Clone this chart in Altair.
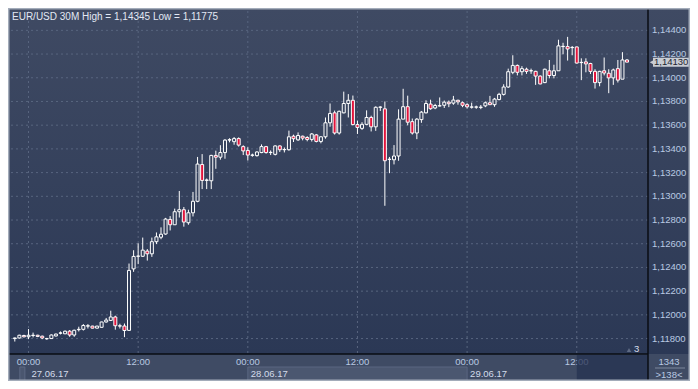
import altair as alt
import pandas as pd

# ---- candle data (EUR/USD, 30-minute bars; slot 0 = 27.06.17 00:00) ----
slots = list(range(-3, 132))
opens = [1.11800, 1.11805, 1.11826, 1.11815, 1.11826, 1.11828, 1.11820, 1.11798, 1.11800, 1.11822,
         1.11845, 1.11840, 1.11862, 1.11830, 1.11875, 1.11878, 1.11905, 1.11905, 1.11888, 1.11895,
         1.11940, 1.11953, 1.11982, 1.11905, 1.11906, 1.11869, 1.12388, 1.12494, 1.12494, 1.12538,
         1.12515, 1.12617, 1.12655, 1.12682, 1.12805, 1.12760, 1.12870, 1.12887, 1.12777, 1.12861,
         1.12958, 1.13268, 1.13134, 1.13131, 1.13345, 1.13330, 1.13369, 1.13474, 1.13461, 1.13487,
         1.13419, 1.13387, 1.13346, 1.13343, 1.13369, 1.13419, 1.13369, 1.13354, 1.13425, 1.13393,
         1.13393, 1.13507, 1.13476, 1.13507, 1.13496, 1.13480, 1.13518, 1.13463, 1.13502, 1.13620,
         1.13704, 1.13534, 1.13704, 1.13783, 1.13810, 1.13605, 1.13573, 1.13607, 1.13665, 1.13586,
         1.13751, 1.13738, 1.13311, 1.13308, 1.13340, 1.13651, 1.13756, 1.13630, 1.13534, 1.13647,
         1.13704, 1.13778, 1.13745, 1.13762, 1.13768, 1.13794, 1.13786, 1.13810, 1.13789, 1.13773,
         1.13752, 1.13752, 1.13750, 1.13763, 1.13789, 1.13773, 1.13816, 1.13860, 1.13922, 1.14046,
         1.14104, 1.14051, 1.14072, 1.14058, 1.14054, 1.14014, 1.13959, 1.14059, 1.14019, 1.14059,
         1.14263, 1.14263, 1.14254, 1.14260, 1.14128, 1.14134, 1.14120, 1.14054, 1.13959, 1.14059,
         1.14038, 1.13999, 1.14077, 1.13988, 1.14150]
highs = [1.11808, 1.11832, 1.11832, 1.11880, 1.11850, 1.11832, 1.11825, 1.11806, 1.11835, 1.11842,
         1.11860, 1.11868, 1.11872, 1.11875, 1.11900, 1.11922, 1.11922, 1.11908, 1.11908, 1.11942,
         1.11974, 1.12035, 1.11993, 1.11925, 1.11927, 1.12433, 1.12545, 1.12604, 1.12652, 1.12555,
         1.12652, 1.12695, 1.12738, 1.12818, 1.12833, 1.12896, 1.13045, 1.12910, 1.12887, 1.13037,
         1.13332, 1.13356, 1.13150, 1.13350, 1.13385, 1.13431, 1.13482, 1.13490, 1.13500, 1.13497,
         1.13430, 1.13414, 1.13360, 1.13380, 1.13438, 1.13425, 1.13387, 1.13430, 1.13430, 1.13412,
         1.13554, 1.13520, 1.13539, 1.13512, 1.13507, 1.13534, 1.13526, 1.13507, 1.13665, 1.13783,
         1.13723, 1.13723, 1.13883, 1.13862, 1.13850, 1.13639, 1.13625, 1.13725, 1.13680, 1.13759,
         1.13759, 1.13800, 1.13332, 1.13432, 1.13734, 1.13907, 1.13849, 1.13656, 1.13660, 1.13720,
         1.13810, 1.13815, 1.13780, 1.13834, 1.13808, 1.13808, 1.13847, 1.13815, 1.13800, 1.13785,
         1.13790, 1.13765, 1.13770, 1.13800, 1.13847, 1.13830, 1.13873, 1.13945, 1.14077, 1.14190,
         1.14112, 1.14098, 1.14085, 1.14077, 1.14059, 1.14020, 1.14077, 1.14150, 1.14110, 1.14321,
         1.14295, 1.14345, 1.14268, 1.14262, 1.14164, 1.14164, 1.14126, 1.14072, 1.14059, 1.14171,
         1.14072, 1.14077, 1.14150, 1.14216, 1.14158]
lows = [1.11775, 1.11800, 1.11810, 1.11795, 1.11810, 1.11812, 1.11795, 1.11790, 1.11798, 1.11818,
        1.11835, 1.11838, 1.11815, 1.11815, 1.11860, 1.11868, 1.11885, 1.11885, 1.11885, 1.11892,
        1.11935, 1.11948, 1.11875, 1.11885, 1.11812, 1.11865, 1.12363, 1.12428, 1.12489, 1.12458,
        1.12489, 1.12597, 1.12638, 1.12676, 1.12712, 1.12760, 1.12821, 1.12744, 1.12760, 1.12830,
        1.12950, 1.13061, 1.13061, 1.13061, 1.13232, 1.13309, 1.13317, 1.13455, 1.13435, 1.13419,
        1.13348, 1.13302, 1.13334, 1.13335, 1.13364, 1.13360, 1.13348, 1.13345, 1.13374, 1.13370,
        1.13385, 1.13458, 1.13468, 1.13472, 1.13464, 1.13462, 1.13455, 1.13447, 1.13486, 1.13587,
        1.13521, 1.13521, 1.13700, 1.13665, 1.13599, 1.13526, 1.13560, 1.13600, 1.13547, 1.13552,
        1.13720, 1.12920, 1.13195, 1.13269, 1.13300, 1.13651, 1.13599, 1.13521, 1.13482, 1.13620,
        1.13700, 1.13730, 1.13735, 1.13758, 1.13745, 1.13752, 1.13772, 1.13773, 1.13752, 1.13740,
        1.13740, 1.13738, 1.13735, 1.13752, 1.13770, 1.13755, 1.13810, 1.13850, 1.13915, 1.14030,
        1.14020, 1.14020, 1.14033, 1.14033, 1.13940, 1.13945, 1.13955, 1.13995, 1.13995, 1.14059,
        1.14198, 1.14145, 1.14190, 1.14120, 1.13980, 1.14046, 1.14032, 1.13909, 1.13928, 1.14020,
        1.13870, 1.13940, 1.13960, 1.13988, 1.14138]
closes = [1.11805, 1.11828, 1.11815, 1.11828, 1.11828, 1.11818, 1.11805, 1.11800, 1.11830, 1.11838,
          1.11848, 1.11862, 1.11830, 1.11870, 1.11878, 1.11910, 1.11908, 1.11888, 1.11905, 1.11940,
          1.11956, 1.11982, 1.11908, 1.11908, 1.11868, 1.12375, 1.12493, 1.12496, 1.12546, 1.12515,
          1.12617, 1.12658, 1.12680, 1.12808, 1.12760, 1.12870, 1.12887, 1.12783, 1.12861, 1.12958,
          1.13272, 1.13134, 1.13138, 1.13345, 1.13330, 1.13369, 1.13474, 1.13478, 1.13487, 1.13432,
          1.13383, 1.13348, 1.13348, 1.13374, 1.13419, 1.13369, 1.13371, 1.13425, 1.13393, 1.13395,
          1.13502, 1.13486, 1.13513, 1.13491, 1.13480, 1.13526, 1.13463, 1.13502, 1.13620, 1.13699,
          1.13534, 1.13717, 1.13783, 1.13810, 1.13605, 1.13581, 1.13607, 1.13665, 1.13586, 1.13751,
          1.13753, 1.13300, 1.13313, 1.13340, 1.13651, 1.13756, 1.13625, 1.13534, 1.13651, 1.13710,
          1.13783, 1.13739, 1.13766, 1.13764, 1.13794, 1.13781, 1.13812, 1.13797, 1.13768, 1.13755,
          1.13754, 1.13754, 1.13752, 1.13789, 1.13773, 1.13820, 1.13860, 1.13922, 1.14051, 1.14104,
          1.14046, 1.14077, 1.14054, 1.14060, 1.14014, 1.13948, 1.14072, 1.14019, 1.14059, 1.14269,
          1.14265, 1.14243, 1.14256, 1.14124, 1.14130, 1.14117, 1.14054, 1.13959, 1.14054, 1.14040,
          1.13999, 1.14066, 1.13980, 1.14150, 1.14132]

price_ticks = [1.118, 1.120, 1.122, 1.124, 1.126, 1.128, 1.130, 1.132, 1.134, 1.136, 1.138, 1.140, 1.142, 1.144]
time_tick_slots = [0, 24, 48, 72, 96, 120]
time_tick_labels = ["00:00", "12:00", "00:00", "12:00", "00:00", "12:00"]
date_slots = [0, 48, 96]
date_labels = ["27.06.17", "28.06.17", "29.06.17"]
current_price = [1.14130]
title_text = "EUR/USD 30M  High = 1,14345  Low = 1,11775"

# ---- layout / style ----
W, H = 637, 343
RP, BP = 42, 27
FONT = "Liberation Sans, Arial, sans-serif"
BG_TOP, BG_BOT = "#3f4a63", "#2b3855"
PANEL = "#3f4b64"
GRID = "#58657f"
RED = "#e3143c"
LABEL = "#b9c9e2"

df = pd.DataFrame({"slot": slots, "open": opens, "high": highs, "low": lows, "close": closes})
xs = alt.Scale(domain=[-2.74, 134.5], nice=False, zero=False)
ys = alt.Scale(domain=[1.11712, 1.14521], nice=False, zero=False)
one = pd.DataFrame({"a": [0]})

grad = alt.LinearGradient(
    gradient="linear",
    stops=[alt.GradientStop(color=BG_TOP, offset=0), alt.GradientStop(color=BG_BOT, offset=1)],
    x1=0, x2=0, y1=0, y2=1,
)
bg = alt.Chart(one).mark_rect(color=grad).encode(
    x=alt.value(-3), x2=alt.value(W + RP), y=alt.value(-3), y2=alt.value(H))

# lighter box behind the middle date label, and the small marker box at the start
dates_df = pd.DataFrame({"slot": date_slots, "label": date_labels})
day_box = alt.Chart(pd.DataFrame({"s0": [48], "s1": [96]})).mark_rect(
    color="#4b5770", stroke="#5a6680", strokeWidth=1).encode(
    x=alt.X("s0:Q", scale=xs, axis=None), x2="s1:Q",
    y=alt.value(H + 13), y2=alt.value(H + BP + 2))
start_box = alt.Chart(pd.DataFrame({"s0": [-1.9], "s1": [-0.8]})).mark_rect(
    color="#4a566f", stroke="#5c6882", strokeWidth=1).encode(
    x=alt.X("s0:Q", scale=xs, axis=None), x2="s1:Q",
    y=alt.value(H + 13), y2=alt.value(H + BP + 2))

dark_box = alt.Chart(pd.DataFrame({"slot": [120]})).mark_rect(color="#263250", opacity=0.75).encode(
    x=alt.X("slot:Q", scale=xs, axis=None), x2=alt.value(W), y=alt.value(H + 1), y2=alt.value(H + BP))

vgrid = alt.Chart(pd.DataFrame({"slot": time_tick_slots})).mark_rule(
    color=GRID, strokeDash=[2, 3], strokeWidth=1).encode(
    x=alt.X("slot:Q", scale=xs, axis=None), y=alt.value(0), y2=alt.value(H))
hgrid = alt.Chart(pd.DataFrame({"price": price_ticks})).mark_rule(
    color=GRID, strokeDash=[2, 3], strokeWidth=1).encode(
    y=alt.Y("price:Q", scale=ys, axis=None), x=alt.value(0), x2=alt.value(W))

base = alt.Chart(df).transform_calculate(
    top="max(datum.open, datum.close)", bot="min(datum.open, datum.close)")
wick_up = base.mark_rule(color="white", strokeWidth=1).encode(
    x=alt.X("slot:Q", scale=xs, axis=None),
    y=alt.Y("high:Q", scale=ys, axis=None), y2="top:Q")
wick_dn = base.mark_rule(color="white", strokeWidth=1).encode(
    x=alt.X("slot:Q", scale=xs, axis=None),
    y=alt.Y("bot:Q", scale=ys, axis=None), y2="low:Q")
bodies = alt.Chart(df).mark_bar(size=3, stroke="white", strokeWidth=1).encode(
    x=alt.X("slot:Q", scale=xs, axis=None),
    y=alt.Y("open:Q", scale=ys, axis=None), y2="close:Q",
    fill=alt.condition("datum.close < datum.open", alt.value(RED), alt.value("transparent")),
)

title = alt.Chart(one).mark_text(align="left", baseline="alphabetic", font=FONT,
                                 fontSize=10, color="#e2e8f3").encode(
    x=alt.value(1), y=alt.value(9), text=alt.value(title_text))

plabels = pd.DataFrame({"price": price_ticks,
                        "label": [f"{v:.5f}".replace(".", ",") for v in price_ticks]})
ylab = alt.Chart(plabels).mark_text(align="left", baseline="middle", font=FONT,
                                    fontSize=9.5, color=LABEL).encode(
    y=alt.Y("price:Q", scale=ys, axis=None), x=alt.value(W + 4), text="label:N")

cur_df = pd.DataFrame({"price": current_price,
                       "label": [f"{v:.5f}".replace(".", ",") for v in current_price]})
cur_rect = alt.Chart(cur_df).mark_bar(color="#c9cdd4", size=9, orient="horizontal").encode(
    y=alt.Y("price:Q", scale=ys, axis=None), x=alt.value(W + 5), x2=alt.value(W + RP - 1))
cur_arrow = alt.Chart(cur_df).mark_point(shape="triangle-left", filled=True, size=40,
                                         color="#c9cdd4", opacity=1).encode(
    y=alt.Y("price:Q", scale=ys, axis=None), x=alt.value(W + 4.5))
cur_text = alt.Chart(cur_df).mark_text(align="left", baseline="middle", font=FONT,
                                       fontSize=9.5, color="#1e2530").encode(
    y=alt.Y("price:Q", scale=ys, axis=None), x=alt.value(W + 6), text="label:N")

times_df = pd.DataFrame({"slot": time_tick_slots, "label": time_tick_labels})
xlab = alt.Chart(times_df).mark_text(align="center", baseline="middle", font=FONT,
                                     fontSize=9.5, color=LABEL).encode(
    x=alt.X("slot:Q", scale=xs, axis=None), y=alt.value(H + 7.5), text="label:N")
dlab = alt.Chart(dates_df).mark_text(align="left", baseline="middle", font=FONT,
                                     fontSize=9.5, color="#d3dbea", dx=3).encode(
    x=alt.X("slot:Q", scale=xs, axis=None), y=alt.value(H + 20), text="label:N")

vsep = alt.Chart(one).mark_rule(color="#0a0d13", strokeWidth=1.5).encode(
    x=alt.value(W), y=alt.value(-3), y2=alt.value(H + BP))
hsep = alt.Chart(one).mark_rule(color="#0a0d13", strokeWidth=1.5).encode(
    y=alt.value(H), x=alt.value(-3), x2=alt.value(W))

corner1 = alt.Chart(one).mark_text(align="center", baseline="middle", font=FONT,
                                   fontSize=9.5, color=LABEL).encode(
    x=alt.value(W + RP / 2), y=alt.value(H + 7.5), text=alt.value("1343"))
corner_line = alt.Chart(one).mark_rule(color="#7d889c", strokeWidth=1).encode(
    x=alt.value(W + 7), x2=alt.value(W + RP - 5), y=alt.value(H + 14))
corner2 = alt.Chart(one).mark_text(align="center", baseline="middle", font=FONT,
                                   fontSize=9.5, color=LABEL).encode(
    x=alt.value(W + RP / 2), y=alt.value(H + 20.5), text=alt.value(">138<"))

tri = alt.Chart(one).mark_point(shape="triangle-up", filled=True, size=20,
                                color="#5e6a83", opacity=1).encode(
    x=alt.value(618), y=alt.value(339))
three = alt.Chart(one).mark_text(align="left", baseline="middle", font=FONT,
                                 fontSize=9.5, color="#d7deeb").encode(
    x=alt.value(623), y=alt.value(338), text=alt.value("3"))

frame = alt.Chart(one).mark_rect(fill="transparent", stroke="#a3acba", strokeWidth=3).encode(
    x=alt.value(-3), x2=alt.value(W + RP), y=alt.value(-3), y2=alt.value(H + BP))

chart = alt.layer(
    bg, day_box, start_box, vgrid, hgrid, wick_up, wick_dn, bodies,
    title, ylab, cur_rect, cur_arrow, cur_text, xlab, dark_box, dlab,
    vsep, hsep, corner1, corner_line, corner2, tri, three, frame,
).properties(
    width=W, height=H,
    padding={"left": 3, "top": 3, "right": RP, "bottom": BP},
    autosize=alt.AutoSizeParams(type="none"),
    background=PANEL,
).configure_view(stroke=None)

chart.save("out.html", embed_options={"renderer": "svg", "actions": False})
